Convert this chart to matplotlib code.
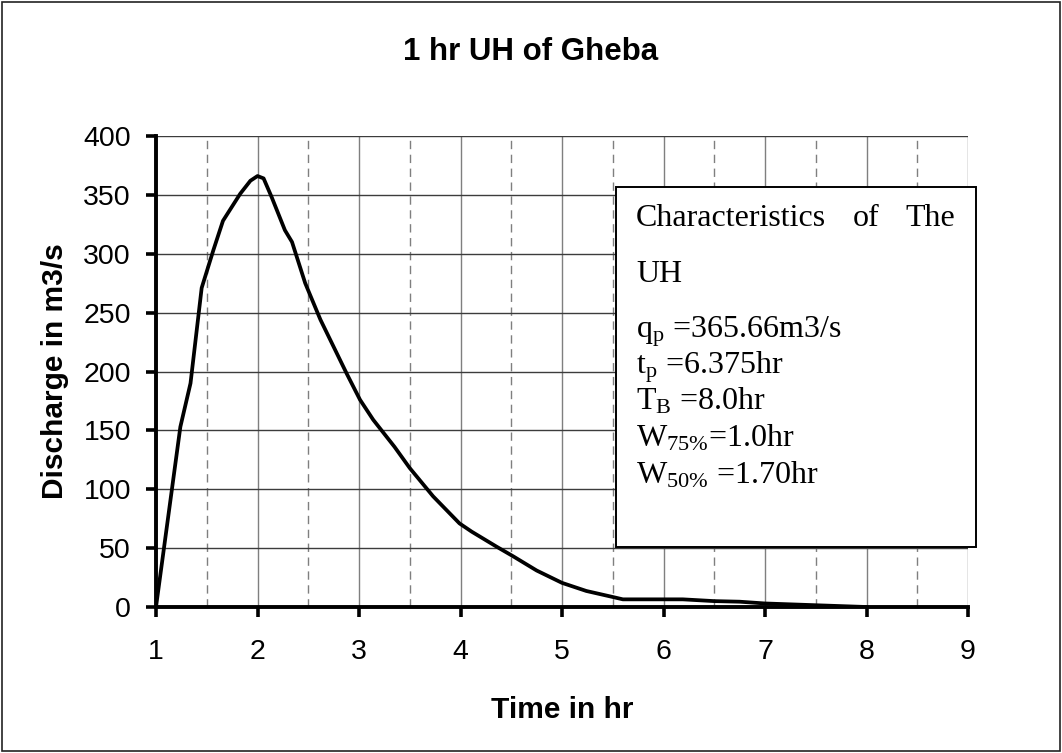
import matplotlib
matplotlib.use("Agg")
import matplotlib.pyplot as plt
from matplotlib.patches import Rectangle
from matplotlib.ticker import MultipleLocator

plt.rcParams['font.family'] = ['Liberation Sans', 'DejaVu Sans']
plt.rcParams['mathtext.fontset'] = 'custom'
plt.rcParams['mathtext.rm'] = 'Liberation Serif'
plt.rcParams['mathtext.it'] = 'Liberation Serif:italic'

# unit hydrograph
time_hr = [1.0, 1.24, 1.34, 1.45, 1.565, 1.66, 1.83, 1.93, 2.0, 2.06, 2.14, 2.27, 2.34,
           2.47, 2.62, 2.88, 3.01, 3.14, 3.35, 3.50, 3.73, 3.99, 4.11, 4.36, 4.52,
           4.75, 5.0, 5.24, 5.5, 5.6, 6.19, 6.5, 6.75, 7.0, 7.5, 8.0]
discharge = [0, 153, 190, 271, 303, 328, 351, 362, 366, 364, 348, 320, 310,
             275, 244, 198, 176, 159, 136, 118, 94, 71, 64, 51, 43,
             31, 20.5, 13.6, 8.5, 6.5, 6.5, 5, 4.5, 3, 1.5, 0]

title = "1 hr UH of Gheba"
box_head = ["Characteristics", "of", "The"]
box_lines = [r"q$_\mathrm{p}$ =365.66m3/s",
             r"t$_\mathrm{p}$ =6.375hr",
             r"T$_\mathrm{B}$ =8.0hr",
             r"W$_\mathrm{75\%}$=1.0hr",
             r"W$_\mathrm{50\%}$ =1.70hr"]

W, H = 1062, 753
fig = plt.figure(figsize=(W / 100, H / 100), dpi=100)
ax = fig.add_axes([156 / W, 1 - 607 / H, (968 - 156) / W, (607 - 136) / H])

ax.plot(time_hr, discharge, color='black', lw=2.7, zorder=3, solid_joinstyle='round')

ax.set_xlim(1, 9)
ax.set_ylim(0, 400)
ax.xaxis.set_major_locator(MultipleLocator(1))
ax.xaxis.set_minor_locator(MultipleLocator(0.5))
ax.yaxis.set_major_locator(MultipleLocator(50))

ax.grid(which='major', axis='x', color='#7f7f7f', lw=1)
ax.grid(which='minor', axis='x', color='#7f7f7f', lw=1, ls=(0, (6, 4)))
ax.grid(which='major', axis='y', color='#3c3c3c', lw=1)
ax.set_axisbelow(True)

for s in ['top', 'right']:
    ax.spines[s].set_visible(False)
for s in ['left', 'bottom']:
    ax.spines[s].set_linewidth(2.8)
    ax.spines[s].set_zorder(4)

ax.tick_params(which='major', direction='out', length=7, width=2.6, labelsize=20.5, pad=11)
ax.tick_params(axis='x', which='major', length=7, pad=16)
ax.tick_params(which='minor', length=0)

ax.set_xlabel("Time in hr", fontsize=21.5, fontweight='bold', labelpad=22)
ax.set_ylabel("Discharge in m3/s", fontsize=21.5, fontweight='bold', labelpad=10)
fig.text(531 / W, 1 - 52 / H, title, ha='center', va='center', fontsize=22.5, fontweight='bold')

# characteristics box
fig.add_artist(Rectangle((616 / W, 1 - 547 / H), 360 / W, 360 / H, transform=fig.transFigure,
                         facecolor='white', edgecolor='black', lw=1.4, zorder=5))
serif = dict(fontsize=23, family='Liberation Serif', va='baseline', zorder=6)
fig.text(636 / W, 1 - 226 / H, box_head[0], ha='left', **serif)
fig.text(866 / W, 1 - 226 / H, box_head[1], ha='center', **serif)
fig.text(955 / W, 1 - 226 / H, box_head[2], ha='right', **serif)
fig.text(636 / W, 1 - 282 / H, "UH", ha='left', **serif)
for i, line in enumerate(box_lines):
    fig.text(636 / W, 1 - (337 + 36.5 * i) / H, line, ha='left', **serif)

# outer frame
fig.add_artist(Rectangle((2 / W, 2 / H), (W - 4) / W, (H - 4) / H, transform=fig.transFigure,
                         facecolor='none', edgecolor='#222222', lw=1.2, zorder=10))

fig.savefig("out.png", dpi=100)
